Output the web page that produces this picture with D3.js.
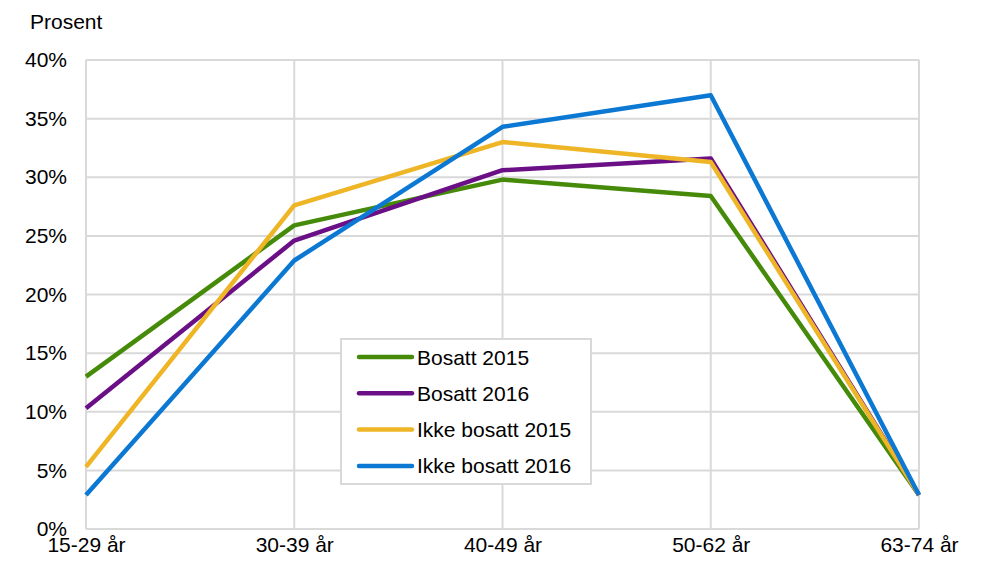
<!DOCTYPE html>
<html lang="no">
<head>
<meta charset="utf-8">
<script src="https://cdn.jsdelivr.net/npm/d3@7/dist/d3.min.js"></script>
<style>
  body { margin: 0; background: #fff; }
  svg { font-family: "Liberation Sans", Arial, sans-serif; }
</style>
</head>
<body>
<script>
  // aldersgrupper og serier (prosent)
  const categories = ["15-29 år", "30-39 år", "40-49 år", "50-62 år", "63-74 år"];
  const bosatt2015 = [13.0, 25.9, 29.8, 28.4, 2.9];
  const bosatt2016 = [10.3, 24.6, 30.6, 31.6, 2.9];
  const ikkeBosatt2015 = [5.3, 27.6, 33.0, 31.3, 2.9];
  const ikkeBosatt2016 = [2.9, 22.9, 34.3, 37.0, 2.9];
  const yTicks = [0, 5, 10, 15, 20, 25, 30, 35, 40];

  const series = [
    { name: "Bosatt 2015", values: bosatt2015, color: "#468a0a" },
    { name: "Bosatt 2016", values: bosatt2016, color: "#6b0f86" },
    { name: "Ikke bosatt 2015", values: ikkeBosatt2015, color: "#eeb526" },
    { name: "Ikke bosatt 2016", values: ikkeBosatt2016, color: "#0b78d3" }
  ];

  const w = 993, h = 568;
  const margin = { top: 60, right: 74, bottom: 39, left: 86 };
  const fs = 21;

  const svg = d3.select("body").append("svg")
    .attr("width", w)
    .attr("height", h);

  const x = d3.scalePoint()
    .domain(categories)
    .range([margin.left, w - margin.right]);

  const y = d3.scaleLinear()
    .domain([0, 40])
    .range([h - margin.bottom, margin.top]);

  // rutenett
  svg.append("g")
    .selectAll("line.h")
    .data(yTicks)
    .enter().append("line")
    .attr("x1", margin.left)
    .attr("x2", w - margin.right)
    .attr("y1", d => y(d))
    .attr("y2", d => y(d))
    .attr("stroke", "#d9d9d9")
    .attr("stroke-width", 2);

  svg.append("g")
    .selectAll("line.v")
    .data(categories)
    .enter().append("line")
    .attr("x1", d => x(d))
    .attr("x2", d => x(d))
    .attr("y1", y(0))
    .attr("y2", y(40))
    .attr("stroke", "#d9d9d9")
    .attr("stroke-width", 2);

  // akser
  const yAxis = d3.axisLeft(y).tickValues(yTicks).tickSize(0).tickPadding(19)
    .tickFormat(d => d + "%");
  svg.append("g")
    .attr("transform", "translate(" + margin.left + ",0)")
    .call(yAxis)
    .call(g => g.select(".domain").remove())
    .selectAll("text")
    .attr("font-size", fs)
    .attr("fill", "#000");

  const xAxis = d3.axisBottom(x).tickSize(0).tickPadding(8);
  svg.append("g")
    .attr("transform", "translate(0," + y(0) + ")")
    .call(xAxis)
    .call(g => g.select(".domain").remove())
    .selectAll("text")
    .attr("font-size", fs)
    .attr("fill", "#000");

  svg.append("text")
    .attr("x", 30)
    .attr("y", 29)
    .attr("font-size", fs)
    .text("Prosent");

  // linjer
  const line = d3.line()
    .x((d, i) => x(categories[i]))
    .y(d => y(d));

  svg.selectAll("path.serie")
    .data(series)
    .enter().append("path")
    .attr("class", "serie")
    .attr("d", d => line(d.values))
    .attr("fill", "none")
    .attr("stroke", d => d.color)
    .attr("stroke-width", 4.5)
    .attr("stroke-linejoin", "round");

  // tegnforklaring
  const lg = svg.append("g").attr("transform", "translate(341,339)");
  lg.append("rect")
    .attr("width", 250)
    .attr("height", 145)
    .attr("fill", "#fff")
    .attr("stroke", "#d9d9d9")
    .attr("stroke-width", 2);

  const item = lg.selectAll("g.item")
    .data(series)
    .enter().append("g")
    .attr("transform", (d, i) => "translate(0," + (18 + i * 36.3) + ")");

  item.append("line")
    .attr("x1", 18).attr("x2", 71)
    .attr("stroke", d => d.color)
    .attr("stroke-width", 4.5)
    .attr("stroke-linecap", "round");

  item.append("text")
    .attr("x", 76)
    .attr("dy", "0.36em")
    .attr("font-size", fs)
    .text(d => d.name);
</script>
</body>
</html>
